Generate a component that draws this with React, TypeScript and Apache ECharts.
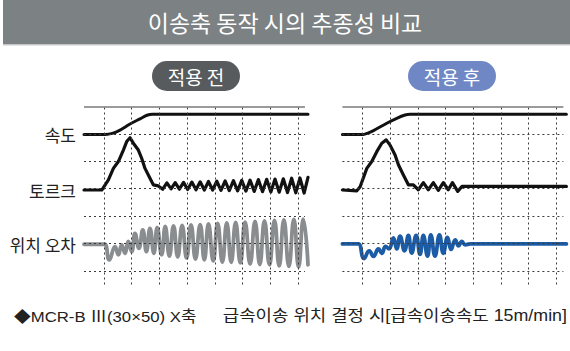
import React, { useEffect, useRef } from "react";
import * as echarts from "echarts";

const titleText = "이송축 동작 시의 추종성 비교";
const panelTitles = ["적용 전", "적용 후"];
const rowLabels = ["속도", "토르크", "위치 오차"];
const footnoteLeft = "◆MCR-B Ⅲ(30×50) X축";
const footnoteRight = "급속이송 위치 결정 시[급속이송속도 15m/min]";

// grid divisions (time on x, signal level on y)
const xGridLines = [0, 1, 2, 3, 4, 5, 6, 7];
const yGridLines = [0, 1, 2, 3, 4, 5];
const topLineLevel = 6;

// ---- 적용 전 ----
const speedBefore: number[][] = [
  [-0.72, 4.98], [0.05, 4.98], [0.3, 5.02], [0.58, 5.14], [0.94, 5.36],
  [1.3, 5.55], [1.55, 5.68], [1.75, 5.72], [7.36, 5.72],
];
const torqueBefore: number[][] = [
  [-0.72, 2.95], [-0.08, 2.95], [0.16, 3.32], [0.34, 3.74], [0.52, 3.99],
  [0.7, 4.41], [0.82, 4.72], [0.94, 4.86], [1.06, 4.66], [1.24, 4.41],
  [1.36, 4.11], [1.48, 3.74], [1.66, 3.38], [1.78, 3.14], [1.96, 3.1],
  [2.12, 2.98], [2.27, 3.21], [2.42, 2.99], [2.57, 3.22], [2.72, 2.98],
  [2.87, 3.23], [3.02, 2.97], [3.17, 3.24], [3.32, 2.96], [3.47, 3.25],
  [3.62, 2.95], [3.77, 3.26], [3.92, 2.95], [4.07, 3.27], [4.22, 2.94],
  [4.37, 3.28], [4.52, 2.93], [4.67, 3.29], [4.82, 2.92], [4.97, 3.3],
  [5.12, 2.91], [5.27, 3.31], [5.42, 2.9], [5.57, 3.33], [5.72, 2.89],
  [5.87, 3.34], [6.02, 2.88], [6.17, 3.35], [6.32, 2.87], [6.47, 3.36],
  [6.62, 2.86], [6.77, 3.38], [6.92, 2.85], [7.07, 3.39], [7.22, 2.84],
  [7.36, 3.41],
];
const errorBefore: number[][] = [
  [-0.72, 0.97], [-0.1, 0.97], [0.03, 0.97], [0.19, 0.4], [0.4, 0.88],
  [0.52, 0.58], [0.64, 0.95], [0.76, 0.64], [0.88, 1.07], [1.0, 0.7],
  [1.12, 1.37], [1.26, 0.82], [1.4, 1.49], [1.53, 0.7], [1.66, 1.55],
  [1.8, 0.64], [1.92, 1.58], [2.08, 0.58], [2.21, 1.62], [2.36, 0.54],
  [2.51, 1.64], [2.66, 0.51], [2.82, 1.66], [2.98, 0.47], [3.14, 1.68],
  [3.3, 0.43], [3.47, 1.69], [3.62, 0.4], [3.77, 1.71], [3.94, 0.36],
  [4.1, 1.73], [4.27, 0.32], [4.43, 1.75], [4.59, 0.31], [4.75, 1.77],
  [4.92, 0.29], [5.09, 1.78], [5.27, 0.25], [5.45, 1.8], [5.62, 0.23],
  [5.79, 1.82], [5.97, 0.22], [6.15, 1.84], [6.32, 0.18], [6.49, 1.86],
  [6.67, 0.16], [6.85, 1.88], [7.02, 0.14], [7.19, 1.89], [7.36, 0.22],
];

// ---- 적용 후 ----
const speedAfter: number[][] = [
  [-0.72, 4.98], [0.04, 4.98], [0.2, 5.03], [0.4, 5.12], [0.88, 5.39],
  [1.24, 5.57], [1.54, 5.69], [1.72, 5.72], [7.36, 5.72],
];
const torqueAfter: number[][] = [
  [-0.72, 2.95], [-0.2, 2.92], [-0.08, 3.07], [0.16, 3.74], [0.34, 3.99],
  [0.52, 4.35], [0.7, 4.66], [0.86, 4.78], [1.0, 4.59], [1.18, 4.23],
  [1.3, 3.87], [1.48, 3.5], [1.66, 3.14], [1.84, 3.14], [2.02, 2.96],
  [2.2, 3.22], [2.38, 2.96], [2.56, 3.22], [2.74, 2.94], [2.92, 3.22],
  [3.1, 2.96], [3.25, 3.22], [3.44, 2.9], [3.59, 3.08], [7.36, 3.08],
];
const errorAfter: number[][] = [
  [-0.72, 0.98], [-0.25, 0.98], [-0.14, 0.98], [0.06, 0.45], [0.25, 0.73],
  [0.4, 0.53], [0.58, 0.8], [0.7, 0.64], [0.84, 0.89], [0.96, 0.8],
  [1.12, 1.2], [1.24, 0.8], [1.36, 1.27], [1.52, 0.73], [1.66, 1.29],
  [1.78, 0.65], [1.94, 1.29], [2.08, 0.6], [2.2, 1.29], [2.35, 0.54],
  [2.47, 1.31], [2.62, 0.54], [2.78, 1.31], [2.92, 0.64], [3.07, 1.22],
  [3.2, 0.78], [3.35, 1.13], [3.47, 0.91], [3.59, 1.07], [3.71, 0.95],
  [3.89, 0.98], [4.1, 0.98], [7.36, 0.98],
];

const X_MIN = -0.72;
const X_MAX = 7.36;
const Y_MIN = -0.5;
const Y_MAX = 6;

const FONT = "'Liberation Sans', 'Noto Sans CJK KR', sans-serif";
const KFONT = "'Noto Sans CJK KR', sans-serif";

function gridSeries(idx: number) {
  const lines: any[] = [];
  xGridLines.forEach((x) =>
    lines.push([{ coord: [x, Y_MIN] }, { coord: [x, Y_MAX] }])
  );
  yGridLines.forEach((y) =>
    lines.push([{ coord: [X_MIN, y] }, { coord: [7.25, y] }])
  );
  lines.push([
    { coord: [X_MIN, topLineLevel], lineStyle: { type: "solid", color: "#7a7a7a", width: 1.5 } },
    { coord: [7.25, topLineLevel] },
  ]);
  return {
    type: "line",
    xAxisIndex: idx,
    yAxisIndex: idx,
    data: [[X_MIN, Y_MIN]],
    symbol: "none",
    lineStyle: { opacity: 0 },
    silent: true,
    z: 1,
    markLine: {
      silent: true,
      symbol: ["none", "none"],
      label: { show: false },
      animation: false,
      lineStyle: { type: [2, 3], color: "#3a3a3a", width: 1 },
      data: lines,
    },
  };
}

function curve(idx: number, data: number[][], color: string, width: number, smooth: number | boolean) {
  return {
    type: "line",
    xAxisIndex: idx,
    yAxisIndex: idx,
    data,
    symbol: "none",
    smooth,
    clip: false,
    z: 3,
    lineStyle: { color, width, join: "round", cap: "round" },
  };
}

export default function App() {
  const ref = useRef<HTMLDivElement>(null);
  useEffect(() => {
    if (!ref.current) return;
    const chart = echarts.init(ref.current, null, { renderer: "svg" });
    const axisCommon = { type: "value", show: false, splitLine: { show: false } };
    const option: any = {
      animation: false,
      backgroundColor: "#ffffff",
      grid: [
        { left: 84, top: 106.5, width: 224, height: 178 },
        { left: 342.4, top: 106.5, width: 224, height: 178 },
      ],
      xAxis: [
        { ...axisCommon, gridIndex: 0, min: X_MIN, max: X_MAX },
        { ...axisCommon, gridIndex: 1, min: X_MIN, max: X_MAX },
      ],
      yAxis: [
        { ...axisCommon, gridIndex: 0, min: Y_MIN, max: Y_MAX },
        { ...axisCommon, gridIndex: 1, min: Y_MIN, max: Y_MAX },
      ],
      series: [
        gridSeries(0),
        gridSeries(1),
        curve(0, speedBefore, "#111111", 3, 0.3),
        curve(0, torqueBefore, "#111111", 3.2, false),
        curve(0, errorBefore, "#8a8d8f", 3.8, 0.5),
        curve(1, speedAfter, "#111111", 3, 0.3),
        curve(1, torqueAfter, "#111111", 3.2, false),
        curve(1, errorAfter, "#1c5ca6", 3.8, 0.5),
      ],
      graphic: [
        { type: "rect", shape: { x: 3, y: 0, width: 567, height: 44 }, style: { fill: "#7c8184" } },
        { type: "rect", shape: { x: 3, y: 44, width: 567, height: 1.5 }, style: { fill: "#c4c8ca" } },
        {
          type: "text", x: 285, y: 22,
          style: { text: titleText, fill: "#ffffff", font: `23px ${KFONT}`, align: "center", verticalAlign: "middle" },
        },
        { type: "rect", shape: { x: 152, y: 61, width: 88, height: 30, r: 15 }, style: { fill: "#575b5e" } },
        {
          type: "text", x: 196, y: 76.5,
          style: { text: panelTitles[0], fill: "#ffffff", font: `19px ${KFONT}`, align: "center", verticalAlign: "middle" },
        },
        { type: "rect", shape: { x: 408, y: 61, width: 88, height: 30, r: 15 }, style: { fill: "#6f88c5" } },
        {
          type: "text", x: 452, y: 76.5,
          style: { text: panelTitles[1], fill: "#ffffff", font: `19px ${KFONT}`, align: "center", verticalAlign: "middle" },
        },
        {
          type: "text", x: 76, y: 134.5,
          style: { text: rowLabels[0], fill: "#222222", font: `17px ${KFONT}`, align: "right", verticalAlign: "middle" },
        },
        {
          type: "text", x: 76, y: 190,
          style: { text: rowLabels[1], fill: "#222222", font: `17px ${KFONT}`, align: "right", verticalAlign: "middle" },
        },
        {
          type: "text", x: 76, y: 244,
          style: { text: rowLabels[2], fill: "#222222", font: `17px ${KFONT}`, align: "right", verticalAlign: "middle" },
        },
        {
          type: "text", x: 14, y: 316, scaleX: 1.08,
          style: { text: footnoteLeft, fill: "#222222", font: `15.5px ${FONT}`, align: "left", verticalAlign: "middle" },
        },
        {
          type: "text", x: 567, y: 316, scaleX: 1.115,
          style: { text: footnoteRight, fill: "#222222", font: `16px ${FONT}`, align: "right", verticalAlign: "middle" },
        },
      ],
    };
    chart.setOption(option);
    return () => chart.dispose();
  }, []);
  return (
    <div
      ref={ref}
      style={{ position: "fixed", left: 0, top: 0, width: 570, height: 351, background: "#fff" }}
    />
  );
}
